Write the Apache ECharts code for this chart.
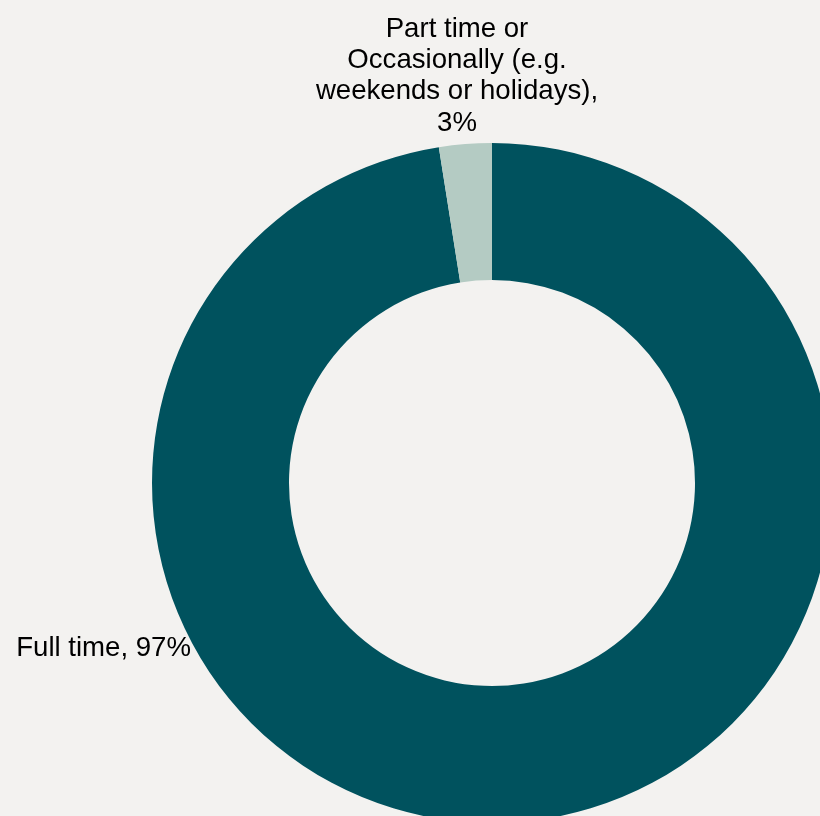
<!DOCTYPE html>
<html>
<head>
<meta charset="utf-8">
<script src="https://cdn.jsdelivr.net/npm/echarts@6/dist/echarts.min.js"></script>
<style>
html,body{margin:0;padding:0;background:#f3f2f0;}
#chart{width:820px;height:816px;}
</style>
</head>
<body>
<div id="chart"></div>
<script>
const categories = ['Full time', 'Part time or\nOccasionally (e.g.\nweekends or holidays)'];
const values = [97.5, 2.5];
const pctLabels = ['97%', '3%'];
const colors = ['#00525e', '#b4cbc3'];

const chart = echarts.init(document.getElementById('chart'));
const labelPos = [
  {x: 191, y: 648, align: 'right', sep: ', '},
  {x: 457, y: 76, align: 'center', sep: ',\n'}
];
chart.setOption({
  backgroundColor: '#f3f2f0',
  animation: false,
  series: [{
    type: 'pie',
    center: [492, 483],
    radius: [203, 340],
    startAngle: 90,
    clockwise: true,
    data: categories.map((c, i) => ({name: c, value: values[i], itemStyle: {color: colors[i]}})),
    label: {
      show: true,
      position: 'outside',
      formatter: p => p.name + labelPos[p.dataIndex].sep + pctLabels[p.dataIndex],
      color: '#000',
      fontFamily: 'Liberation Sans, Arial, sans-serif',
      fontSize: 27.6,
      lineHeight: 31.4,
      align: 'center'
    },
    labelLine: {show: false},
    labelLayout: params => ({
      x: labelPos[params.dataIndex].x,
      y: labelPos[params.dataIndex].y,
      align: labelPos[params.dataIndex].align,
      verticalAlign: 'middle'
    })
  }]
});
</script>
</body>
</html>
